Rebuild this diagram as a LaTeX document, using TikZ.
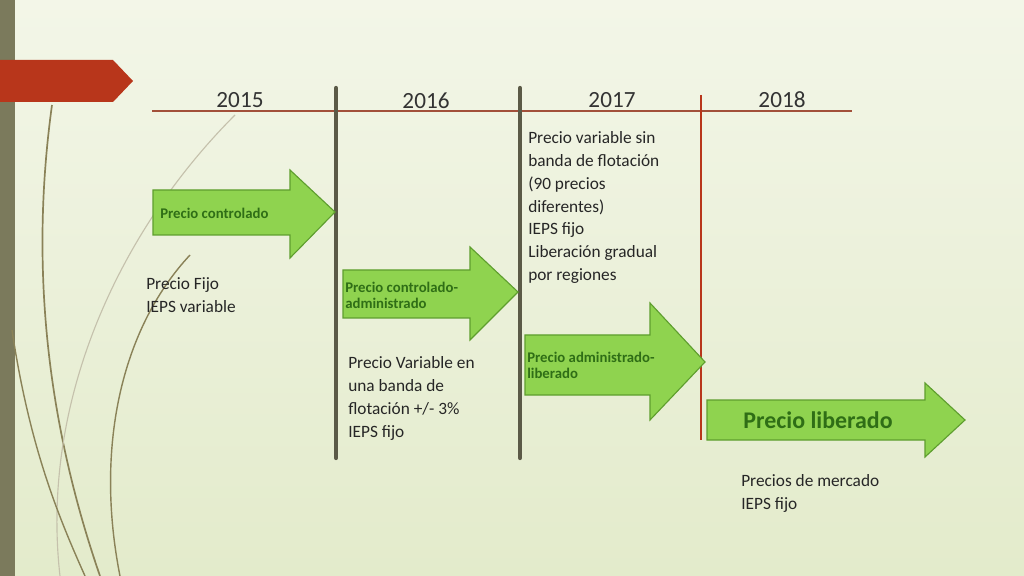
\documentclass[tikz,border=0pt]{standalone}
\usepackage{fontspec}
\setmainfont{Carlito}
\usetikzlibrary{positioning}
\definecolor{bgtop}{HTML}{F3F6E8}
\definecolor{bgbot}{HTML}{E3EBCB}
\definecolor{sidebar}{HTML}{7B7A5C}
\definecolor{tabred}{HTML}{B8361B}
\definecolor{axisline}{HTML}{A2503A}
\definecolor{divider}{HTML}{5B5A47}
\definecolor{arrowfill}{HTML}{8FD34F}
\definecolor{arrowedge}{HTML}{5E9E2E}
\definecolor{labelgreen}{HTML}{2F6E16}
\definecolor{swirl}{HTML}{8A8258}
\begin{document}
\begin{tikzpicture}[x=0.025cm, y=-0.025cm,
  year/.style={anchor=base, font=\fontsize{16.5}{18}\selectfont, text=black!80},
  note/.style={anchor=north west, align=left, inner sep=0pt,
    font=\fontsize{12.3}{16.3}\selectfont, text=black!85},
  garrow/.style={fill=arrowfill, draw=arrowedge, line width=0.8pt},
  glabel/.style={anchor=west, align=left, inner sep=0pt, text=labelgreen,
    font=\fontsize{10.5}{11.5}\selectfont\bfseries},
  divline/.style={draw=divider, line width=3pt, line cap=round}]
% background and frame
\shade[top color=bgtop, bottom color=bgbot] (0,0) rectangle (1024,576);
\useasboundingbox (0,0) rectangle (1024,576);
\fill[sidebar] (0,0) rectangle (15,576);
\fill[tabred] (0,60) -- (113,60) -- (133,81) -- (113,102) -- (0,102) -- cycle;
% swirls
\draw[swirl, line width=1.2pt] (52,105) .. controls (25,300) and (60,460) .. (100,576);
\draw[swirl, line width=1pt] (190,255) .. controls (120,330) and (95,450) .. (120,576);
\draw[swirl!50, line width=0.8pt] (235,115) .. controls (120,230) and (40,400) .. (60,576);
\draw[swirl, line width=1pt] (12,330) .. controls (30,450) and (60,520) .. (85,576);
% timeline
\draw[axisline, line width=0.8pt] (152,111) -- (852,111);
\draw[divline] (336,88) -- (336,458);
\draw[divline] (520,88) -- (520,458);
\draw[tabred, line width=0.8pt] (701,95) -- (701,440);
\node[year] (y15) at (240,108) {2015};
\node[year] (y16) at (426,109) {2016};
\node[year] (y17) at (612,108) {2017};
\node[year] (y18) at (782,108) {2018};
% arrows
\draw[garrow] (153,190) -- (290,190) -- (290,170) -- (335,212) -- (290,258) -- (290,235) -- (153,235) -- cycle;
\node[glabel] (a1) at (160,213) {Precio controlado};
\draw[garrow] (343,270) -- (470,270) -- (470,247) -- (518,292) -- (470,340) -- (470,318) -- (343,318) -- cycle;
\node[glabel] (a2) at (345,295) {Precio controlado-\\administrado};
\draw[garrow] (525,335) -- (650,335) -- (650,303) -- (705,362) -- (650,420) -- (650,395) -- (525,395) -- cycle;
\node[glabel] (a3) at (527,365) {Precio administrado-\\liberado};
\draw[garrow] (707,400) -- (925,400) -- (925,383) -- (965,420) -- (925,457) -- (925,440) -- (707,440) -- cycle;
\node[glabel, anchor=center, font=\fontsize{17}{19}\selectfont\bfseries] (a4) at (818,420) {Precio liberado};
% notes
\node[note] (n15) at (146,277) {Precio Fijo\\IEPS variable};
\node[note] (n16) at (348,356) {Precio Variable en\\una banda de\\flotación +/- 3\%\\IEPS fijo};
\node[note] (n17) at (528,131) {Precio variable sin\\banda de flotación\\(90 precios\\diferentes)\\IEPS fijo\\Liberación gradual\\por regiones};
\node[note] (n18) at (741,474) {Precios de mercado\\IEPS fijo};
\end{tikzpicture}
\end{document}
